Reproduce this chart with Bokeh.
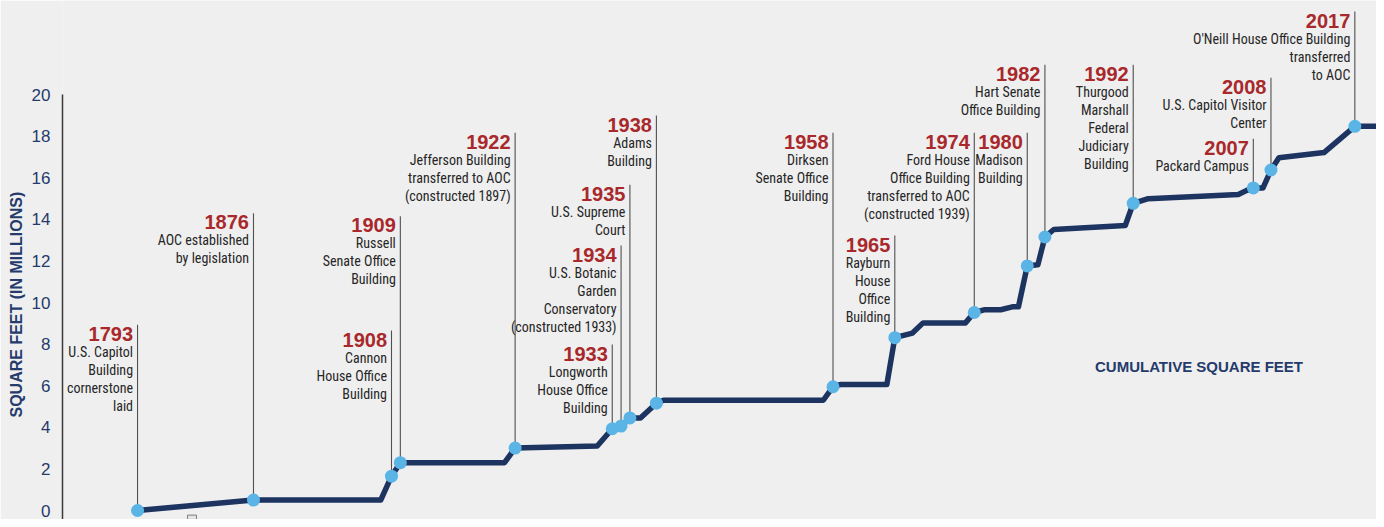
import numpy as np
from bokeh.plotting import figure
from bokeh.models import ColumnDataSource, Range1d, FixedTicker, Title
from bokeh.core.properties import value
from bokeh.embed import file_html
from bokeh.resources import INLINE

# ---------------- data ----------------
# cumulative square feet (millions) along the timeline
curve_year = [1793, 1876, 1905.5, 1908, 1909, 1920.8, 1922, 1931.3, 1933, 1934,
              1935, 1936.2, 1938, 1938.8, 1956.9, 1958, 1958.9, 1964.1, 1965,
              1967.0, 1968.2, 1973.0, 1974, 1975.1, 1977.0, 1978.3, 1979.0, 1980,
              1981.2, 1982, 1983.0, 1991.1, 1992, 1993.7, 2003.9, 2004.8, 2005.6,
              2006.7, 2007.6, 2008.5, 2013.6, 2017.1, 2022]
curve_sqft = [0.0, 0.5, 0.5, 1.65, 2.3, 2.3, 3.0, 3.1, 3.93, 4.06,
              4.45, 4.45, 5.16, 5.3, 5.3, 5.95, 6.06, 6.06, 8.31,
              8.53, 9.02, 9.02, 9.52, 9.65, 9.65, 9.79, 9.79, 11.76,
              11.81, 13.15, 13.51, 13.7, 14.77, 14.99, 15.19, 15.38, 15.51,
              15.51, 16.37, 16.96, 17.21, 18.47, 18.47]

event_year = ["1793", "1876", "1908", "1909", "1922", "1933", "1934", "1935", "1938",
              "1958", "1965", "1974", "1980", "1982", "1992", "2007", "2008", "2017"]
# where each event's marker sits on the timeline
event_pos = [1793, 1876, 1908, 1909, 1922, 1933, 1934, 1935, 1938,
             1958, 1965, 1974, 1980, 1982, 1992, 2005.6, 2007.6, 2017.1]
event_sqft = [0.0, 0.5, 1.65, 2.3, 3.0, 3.93, 4.06, 4.45, 5.16,
              5.95, 8.31, 9.52, 11.76, 13.15, 14.77, 15.51, 16.37, 18.47]
event_text = [
    ["U.S. Capitol", "Building", "cornerstone", "laid"],
    ["AOC established", "by legislation"],
    ["Cannon", "House Office", "Building"],
    ["Russell", "Senate Office", "Building"],
    ["Jefferson Building", "transferred to AOC", "(constructed 1897)"],
    ["Longworth", "House Office", "Building"],
    ["U.S. Botanic", "Garden", "Conservatory", "(constructed 1933)"],
    ["U.S. Supreme", "Court"],
    ["Adams", "Building"],
    ["Dirksen", "Senate Office", "Building"],
    ["Rayburn", "House", "Office", "Building"],
    ["Ford House", "Office Building", "transferred to AOC", "(constructed 1939)"],
    ["Madison", "Building"],
    ["Hart Senate", "Office Building"],
    ["Thurgood", "Marshall", "Federal", "Judiciary", "Building"],
    ["Packard Campus"],
    ["U.S. Capitol Visitor", "Center"],
    ["O'Neill House Office Building", "transferred", "to AOC"],
]
# height (in axis units) at which each callout line ends
label_top = [8.93, 14.29, 8.65, 14.15, 18.16, 7.98, 12.74, 15.66, 18.99,
             18.16, 13.22, 18.16, 18.16, 21.43, 21.43, 17.87, 20.80, 23.99]

y_ticks = list(range(0, 21, 2))

# ---------------- scale / layout ----------------
# compressed timeline before 1908 (axis break)
BREAK_YEARS = [1793, 1876, 1908, 2100]
BREAK_DISPLAY = [1879.24, 1892.37, 1908, 2100]


def disp(years):
    return np.interp(np.asarray(years, dtype=float), BREAK_YEARS, BREAK_DISPLAY)


PX_X = 8.83    # px per display-year
PX_Y = 20.8    # px per million sq ft
ZERO_PX = 510.0
W, H, LEFT = 1376, 519, 62

NAVY = "#1d3461"
DOT = "#5ab4e6"
RED = "#a8282b"
TXT = "#262626"
AXC = "#243b6b"
BG = "#efefef"
DESC_FONT = "'Roboto Condensed', 'DejaVu Sans Condensed', Roboto"

x0 = 1908 - (391 - LEFT) / PX_X
y1 = ZERO_PX / PX_Y
p = figure(width=W, height=H,
           x_range=Range1d(x0, x0 + (W - LEFT) / PX_X), y_range=Range1d(y1 - H / PX_Y, y1),
           output_backend="svg", toolbar_location=None, x_axis_location=None,
           min_border_left=LEFT, min_border_right=0, min_border_top=0, min_border_bottom=0,
           background_fill_color=BG, border_fill_color=BG, outline_line_color=None)
p.grid.visible = False

ax = p.yaxis[0]
ax.ticker = FixedTicker(ticks=y_ticks)
ax.bounds = (-1, 20)
ax.major_tick_line_color = None
ax.minor_tick_line_color = None
ax.major_label_standoff = 6
ax.major_label_text_font = "Liberation Sans"
ax.major_label_text_font_size = "17px"
ax.major_label_text_color = AXC
ax.axis_line_color = "#3a3a3a"
ax.axis_line_width = 1.5

p.add_layout(Title(text="SQUARE FEET (IN MILLIONS)", align="left", offset=H - 417,
                   text_font="Liberation Sans", text_font_style="bold",
                   text_font_size="16px", text_color=AXC, standoff=8), "left")

# axis-break marker
brk = disp([1828.8, 1835.2])
p.quad(left=[brk[0]], right=[brk[1]], bottom=[-1.0], top=[-0.22],
       fill_color="#e3e3e3", line_color="#666666", line_width=0.8)

# callout leaders
ex = disp(event_pos)
p.segment(x0=ex, y0=event_sqft, x1=ex, y1=label_top, line_color="#505050", line_width=1.1)

# curve
p.line(disp(curve_year), curve_sqft, line_color=NAVY, line_width=5.5,
       line_join="round", line_cap="round")
p.scatter(ex, event_sqft, size=13, fill_color=DOT, line_color=None)

# labels
gap = 4.5 / PX_X
top = np.asarray(label_top)
year_src = ColumnDataSource(dict(x=ex - gap, y=top - 9.0 / PX_Y, t=event_year))
p.text(x="x", y="y", text="t", source=year_src, text_align="right",
       text_baseline="alphabetic", text_font=value("Liberation Sans"),
       text_font_style="bold", text_font_size="20px", text_color=RED)

dx, dy, dt = [], [], []
for xi, ti, lines in zip(ex, top, event_text):
    for i, line in enumerate(lines):
        dx.append(xi - gap)
        dy.append(ti - (27 + 18 * i) / PX_Y)
        dt.append(line)
desc_src = ColumnDataSource(dict(x=dx, y=dy, t=dt))
p.text(x="x", y="y", text="t", source=desc_src, text_align="right",
       text_baseline="alphabetic", text_font=value(DESC_FONT),
       text_font_size="14px", text_color=TXT)

# series label
p.text(x=[1908 + (1198.5 - 391) / PX_X], y=[(ZERO_PX - 366) / PX_Y],
       text=["CUMULATIVE SQUARE FEET"], text_align="center",
       text_baseline="middle", text_font=value("Liberation Sans"), text_font_style="bold",
       text_font_size="15px", text_color=AXC)

open("out.html", "w").write(file_html(p, INLINE))
